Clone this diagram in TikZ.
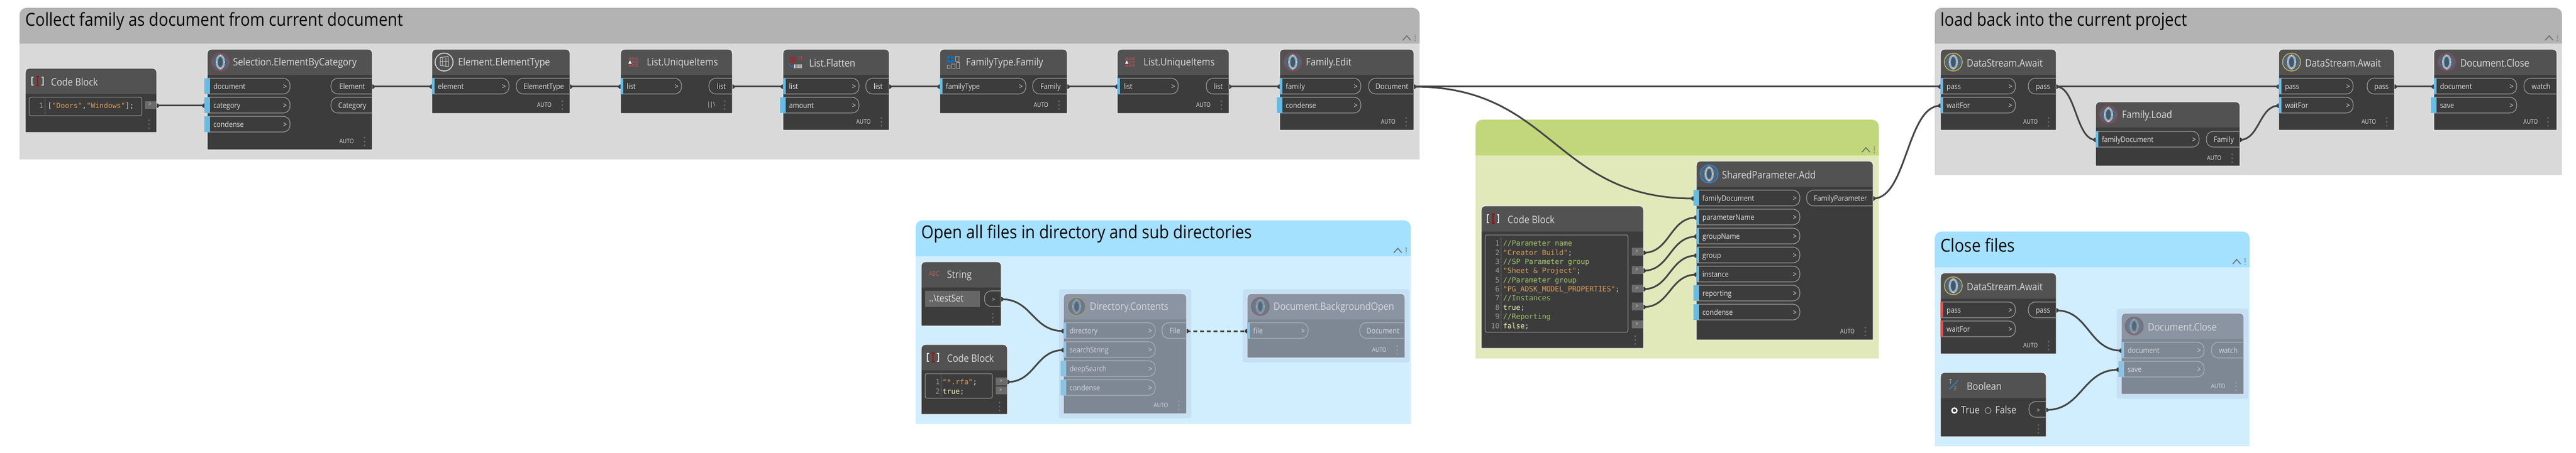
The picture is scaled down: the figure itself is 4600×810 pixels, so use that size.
\documentclass[tikz,border=0pt]{standalone}
\usepackage{fontspec}
\setmainfont{Open Sans}
\newfontfamily\nfont[FakeStretch=0.88]{Open Sans}
\newfontfamily\gfont[FakeStretch=0.887]{Open Sans}
\newfontfamily\cfont{DejaVu Sans Mono}
\usetikzlibrary{calc}
\definecolor{gGrayH}{HTML}{B3B3B3}\definecolor{gGrayB}{HTML}{D9D9D9}
\definecolor{gBlueH}{HTML}{A4E0FF}\definecolor{gBlueB}{HTML}{D0EEFF}
\definecolor{gGreenH}{HTML}{C2D77B}\definecolor{gGreenB}{HTML}{E1E9BB}
\definecolor{halo}{HTML}{C5DFF5}
\definecolor{barblue}{HTML}{66BCE6}\definecolor{barred}{HTML}{EE4B4B}
\definecolor{cmt}{HTML}{A3C46A}\definecolor{strc}{HTML}{D69D5B}\definecolor{kw}{HTML}{EDEDA8}\definecolor{pun}{HTML}{D8D8D8}\definecolor{lnum}{HTML}{9A9A9A}
\definecolor{wirec}{HTML}{444444}
\definecolor{ringred}{HTML}{A83E3E}\definecolor{ringyel}{HTML}{D9B23A}\definecolor{ringblu}{HTML}{3A86CC}
\definecolor{disk}{HTML}{45627A}\definecolor{diskin}{HTML}{3C5A70}\definecolor{diskring}{HTML}{A9AFB4}\definecolor{diskline}{HTML}{6F7C87}
\newcommand\ModeNormal{\definecolor{nhead}{HTML}{525252}\definecolor{nbody}{HTML}{3C3C3C}\definecolor{nedge}{HTML}{F0F0F0}\definecolor{nline}{HTML}{9A9A9A}\definecolor{ntext}{HTML}{E2E2E2}\definecolor{ntitle}{HTML}{DCDCDC}\definecolor{nbar}{HTML}{66BCE6}\definecolor{ndot}{HTML}{6E6E6E}\def\iconop{1}}
\newcommand\ModeFrozen{\definecolor{nhead}{HTML}{8A94A2}\definecolor{nbody}{HTML}{7E8794}\definecolor{nedge}{HTML}{DDE6EF}\definecolor{nline}{HTML}{A9B1BC}\definecolor{ntext}{HTML}{D4D9E0}\definecolor{ntitle}{HTML}{D4D9E0}\definecolor{nbar}{HTML}{8CC3E3}\definecolor{ndot}{HTML}{9AA3AF}\def\iconop{0.5}}
\tikzset{
  gtitle/.style={anchor=west,inner sep=0pt,yshift=-3pt,text=black,font=\gfont\fontsize{32}{36}\selectfont},
  ntitlet/.style={anchor=west,inner sep=0pt,yshift=-2pt,text=ntitle,font=\nfont\fontsize{18.4}{22}\selectfont},
  plab/.style={inner sep=0pt,yshift=-1.5pt,text=ntext,text height=10.5pt,text depth=3pt,font=\nfont\fontsize{13.6}{18}\selectfont},
  autot/.style={inner sep=0pt,text=ntext,font=\nfont\fontsize{11}{13}\selectfont},
  codet/.style={anchor=west,inner sep=0pt,yshift=-2pt,text height=9.5pt,text depth=2.5pt,font=\cfont\fontsize{12.8}{16}\selectfont},
  wire/.style={draw=wirec,line width=3pt},
  wiretab/.style={fill=wirec!90!black},
  edbox/.style={draw=#1,line width=1pt,rounded corners=3pt},
}
\newcommand\DGroup[8]{% name x1 y1 x2 y2 title head body
  \fill[#8] (#2,#3+64) rectangle (#4,#5);
  \fill[#7] (#2,#3+64) -- (#2,#3+14) .. controls (#2,#3+5) and (#2+5,#3) .. (#2+14,#3) -- (#4-14,#3) .. controls (#4-5,#3) and (#4,#3+5) .. (#4,#3+14) -- (#4,#3+64) -- cycle;
  \node[gtitle] (#1) at (#2+10,#3+21) {#6};
  \draw[gray!85!black,line width=1.6pt] (#4-30,#3+58) -- (#4-23,#3+50) -- (#4-16,#3+58);
  \draw[gray,line width=1.2pt,dash pattern=on 1.2pt off 1.2pt] (#4-8,#3+48) -- (#4-8,#3+60);
}
\newcommand\DNode[8]{% name x1 y1 x2 y2 yh titlex title
  \fill[nbody] (#2,#6) rectangle (#4,#5);
  \fill[nhead] (#2,#6) -- (#2,#3+8) .. controls (#2,#3+3) and (#2+3,#3) .. (#2+8,#3) -- (#4-8,#3) .. controls (#4-3,#3) and (#4,#3+3) .. (#4,#3+8) -- (#4,#6) -- cycle;
  \draw[nedge,line width=1.2pt] (#2,#6) -- (#2,#3+8) .. controls (#2,#3+3) and (#2+3,#3) .. (#2+8,#3) -- (#4-8,#3) .. controls (#4-3,#3) and (#4,#3+3) .. (#4,#3+8) -- (#4,#5) -- (#2,#5) -- cycle;
  \node[ntitlet] (#1) at (#7,#3/2+#6/2) {#8};
}
\newcommand\DIn[5]{% name x1 rowtop xr label
  \draw[nline,line width=1.2pt] (#2,#3) -- (#4-13,#3) .. controls (#4-5,#3) and (#4,#3+5) .. (#4,#3+14) .. controls (#4,#3+23) and (#4-5,#3+28) .. (#4-13,#3+28) -- (#2,#3+28);
  \fill[nbar] (#2,#3) rectangle (#2+5,#3+28);
  \node[plab,anchor=west] (#1-t) at (#2+11,#3+14) {#5};
  \node[plab] at (#4-9,#3+14) {>};
  \coordinate (#1) at (#2,#3+15);
}
\newcommand\DInW[5]{% wide bar
  \DIn{#1}{#2}{#3}{#4}{#5}
  \fill[nbar] (#2-5,#3) rectangle (#2+5,#3+28);
  \coordinate (#1) at (#2-5,#3+15);
}
\newcommand\DInR[5]{% red bar
  \DIn{#1}{#2}{#3}{#4}{#5}
  \fill[barred] (#2,#3) rectangle (#2+5,#3+28);
}
\newcommand\DOut[5]{% name xl rowtop x2 label
  \draw[nline,line width=1.2pt] (#4,#3) -- (#2+13,#3) .. controls (#2+5,#3) and (#2,#3+5) .. (#2,#3+14) .. controls (#2,#3+23) and (#2+5,#3+28) .. (#2+13,#3+28) -- (#4,#3+28);
  \node[plab] (#1-t) at (#2/2+#4/2+1,#3+14) {#5};
  \coordinate (#1) at (#4,#3+15);
}
\newcommand\DDots[2]{\foreach \dd in {-7,0,7} \fill[ndot] (#1,#2+\dd) circle (1.6);}
\newcommand\DAuto[4][AUTO]{% label autox dotsx y
  \node[autot] at (#2,#4) {#1};
  \DDots{#3}{#4}
}
\newcommand\CPort[3]{% name x y(top) small code-block output square
  \fill[black!58] (#2,#3) rectangle (#2+20,#3+14);
  \node[plab,yshift=1.5pt,text=pun,font=\nfont\fontsize{10}{12}\selectfont,text height=7pt,text depth=1pt] at (#2+9,#3+6) {>};
  \coordinate (#1) at (#2+20,#3+7);
}
\newcommand\IconGeo[3]{% cx cy ring
  \begin{scope}[opacity=\iconop]
  \fill[disk] (#1,#2) circle (16);
  \draw[diskline,line width=.6pt] (#1-15,#2) -- (#1,#2-15) -- (#1+15,#2) -- (#1,#2+15) -- cycle;
  \draw[diskring,line width=3.6pt] (#1,#2) ellipse [x radius=6.5,y radius=11.5];
  \fill[diskin] (#1,#2) ellipse [x radius=3.6,y radius=8];
  \foreach \ax/\ay in {0/-12,0/12,-7/0,7/0} \fill[white] (#1+\ax,#2+\ay) circle (.9);
  \draw[#3,line width=1.4pt] (#1,#2) circle (16);
  \end{scope}
}
\newcommand\IconList[2]{%
  \foreach \ix in {-6,0,6} \foreach \iy in {-6,0,6} \draw[red!35!gray,line width=.9pt] (#1+\ix,#2+\iy) circle (2);
  \fill[nhead] (#1-6,#2) circle (3);
  \fill[white] (#1-9,#2+3) -- (#1-3,#2+3) -- (#1-6,#2-3) -- cycle;
}
\newcommand\IconCode[2]{%
  \draw[black!15,line width=1.2pt] (#1-7,#2-7) -- (#1-10,#2-7) -- (#1-10,#2+7) -- (#1-7,#2+7);
  \draw[black!15,line width=1.2pt] (#1+7,#2-7) -- (#1+10,#2-7) -- (#1+10,#2+7) -- (#1+7,#2+7);
  \draw[red!70!black,line width=1.3pt] (#1,#2-8) -- (#1,#2+8) (#1-2.5,#2-8) -- (#1+2.5,#2-8) (#1-2.5,#2+8) -- (#1+2.5,#2+8);
}
\newcommand\Wire[3][]{%
  \draw[wire,#1] let \p1=(#2),\p2=(#3),\n1={(\x2-\x1)/2} in (\p1) .. controls (\x1+\n1,\y1) and (\x2-\n1,\y2) .. (\p2);
  \fill[wiretab] ([yshift=-4pt]#2) -- ([xshift=1pt,yshift=-4pt]#2) -- ([xshift=4pt,yshift=-1.5pt]#2) -- ([xshift=4pt,yshift=1.5pt]#2) -- ([xshift=1pt,yshift=4pt]#2) -- ([yshift=4pt]#2) -- cycle;
  \fill[wiretab] ([yshift=-4pt]#3) -- ([xshift=-1pt,yshift=-4pt]#3) -- ([xshift=-4pt,yshift=-1.5pt]#3) -- ([xshift=-4pt,yshift=1.5pt]#3) -- ([xshift=-1pt,yshift=4pt]#3) -- ([yshift=4pt]#3) -- cycle;
}
\begin{document}
\begin{tikzpicture}[x=1pt,y=-1pt]
\useasboundingbox (0,0) rectangle (4600,810);
\fill[white] (0,0) rectangle (4600,810);
\ModeNormal
% ---- groups
\DGroup{gcollect}{35}{14}{2535}{285}{Collect family as document from current document}{gGrayH}{gGrayB}
\DGroup{gload}{3455}{14}{4575}{313}{load back into the current project}{gGrayH}{gGrayB}
\DGroup{gopen}{1635}{394}{2519}{758}{Open all files in directory and sub directories}{gBlueH}{gBlueB}
\DGroup{ggreen}{2635}{214}{3355}{641}{}{gGreenH}{gGreenB}
\DGroup{gclose}{3455}{414}{4017}{798}{Close files}{gBlueH}{gBlueB}
% ---- collect group
\DNode{cb1}{45}{122}{280}{237}{168}{91}{Code Block}
\IconCode{67}{145}
\draw[edbox=nline] (52,174) rectangle (253,207);
\node[codet] (cb1-l1) at (85,188) {\textcolor{pun}{[}\textcolor{strc}{"Doors"}\textcolor{pun}{,}\textcolor{strc}{"Windows"}\textcolor{pun}{];}};
\node[codet,anchor=east,text=lnum] at (77.5,188) {1};
\draw[lnum,line width=.7pt,dash pattern=on 1pt off 1pt] (80,176) -- (80,205);
\CPort{cb1o}{259}{181}
\coordinate (cb1o) at (280,189);
\DDots{266}{222}

\DNode{sel}{370}{88}{665}{268}{134}{416}{Selection.ElementByCategory}
\IconGeo{393.5}{111}{ringred}
\DInW{sel-doc}{370}{140}{518}{document}
\DInW{sel-cat}{370}{174}{518}{category}
\DInW{sel-con}{370}{208}{518}{condense}
\DOut{sel-el}{591}{140}{665}{Element}
\DOut{sel-ca}{591}{174}{665}{Category}
\DAuto{619}{651}{253}

\DNode{ety}{771}{88}{1018}{203}{134}{818}{Element.ElementType}
\draw[black!15,line width=1.6pt] (793,111) circle (16);
\draw[black!20,line width=1pt] (786,103) -- (800,101) -- (801,119) -- (786,117) -- cycle (790,104) -- (790,116) (796,103) -- (796,118) (786,110) -- (801,110);
\DIn{ety-el}{771}{140}{909}{element}
\DOut{ety-ty}{922}{140}{1018}{ElementType}
\DAuto{972}{1004}{188}

\DNode{lu1}{1108}{88}{1308}{203}{134}{1155}{List.UniqueItems}
\IconList{1131}{111}
\DIn{lu1-in}{1108}{140}{1217}{list}
\DOut{lu1-ou}{1266}{140}{1308}{list}
\DAuto[{||\textbackslash}]{1270}{1294}{188}

\DNode{lfl}{1398}{88}{1588}{233}{134}{1445}{List.Flatten}
\foreach \ix in {0,1,2,3} \foreach \iy in {0,1,2,3} \fill[red!55!black!85] (1410+\ix*3.2,101+\iy*3) rectangle ++(2.4,2.2);
\draw[red!45!gray,line width=.9pt] (1426,107) -- (1426,101) -- (1431,101) -- (1431,107);
\draw[blue!50!cyan,line width=1.2pt] (1410,113) .. controls (1410,118) and (1413,119) .. (1418,119);
\fill[black!18] (1418,115) rectangle (1432,122);
\foreach \ix in {1,2,3,4,5,6} \draw[black!55,line width=.4pt] (1418+\ix*2,115) -- (1418+\ix*2,122);
\DIn{lfl-in}{1398}{140}{1534}{list}
\DInW{lfl-am}{1398}{174}{1534}{amount}
\DOut{lfl-ou}{1546}{140}{1588}{list}
\DAuto{1542}{1574}{218}

\DNode{ftf}{1678}{88}{1906}{203}{134}{1725}{FamilyType.Family}
\fill[blue!45!cyan!85!black] (1697,106) circle (6.5);
\draw[black!70,line width=1.2pt] (1691,106) -- (1703,106) (1697,100) -- (1697,112);
\foreach \rx/\ry/\rw/\rh in {1706/100/6/9,1691/116/5/6,1699/114/6/8,1708/111/5/11} \draw[black!35,line width=.8pt] (\rx,\ry) rectangle ++(\rw,\rh);
\DIn{ftf-in}{1678}{140}{1832}{familyType}
\DOut{ftf-ou}{1844}{140}{1906}{Family}
\DAuto{1859}{1891}{188}

\DNode{lu2}{1995}{88}{2195}{203}{134}{2042}{List.UniqueItems}
\IconList{2018}{111}
\DIn{lu2-in}{1995}{140}{2104}{list}
\DOut{lu2-ou}{2154}{140}{2195}{list}
\DAuto{2149}{2181}{188}

\DNode{fed}{2285}{88}{2525}{233}{134}{2332}{Family.Edit}
\IconGeo{2308.5}{111}{ringred}
\DIn{fed-fa}{2285}{140}{2430}{family}
\DInW{fed-co}{2285}{174}{2430}{condense}
\DOut{fed-do}{2444}{140}{2525}{Document}
\DAuto{2479}{2511}{218}
% ---- load group
\DNode{ds1}{3465}{88}{3672}{233}{134}{3512}{DataStream.Await}
\IconGeo{3488}{111}{ringyel}
\DIn{ds1-pa}{3465}{140}{3599}{pass}
\DIn{ds1-wa}{3465}{174}{3599}{waitFor}
\DOut{ds1-ou}{3622}{140}{3672}{pass}
\DAuto{3626}{3658}{218}

\DNode{fl}{3742}{182}{4000}{297}{228}{3789}{Family.Load}
\IconGeo{3765}{205}{ringred}
\DIn{fl-do}{3742}{235}{3927}{familyDocument}
\DOut{fl-ou}{3940}{235}{4000}{Family}
\DAuto{3954}{3986}{283}

\DNode{ds2}{4069}{88}{4276}{233}{134}{4116}{DataStream.Await}
\IconGeo{4092}{111}{ringyel}
\DIn{ds2-pa}{4069}{140}{4202}{pass}
\DIn{ds2-wa}{4069}{174}{4202}{waitFor}
\DOut{ds2-ou}{4227}{140}{4276}{pass}
\DAuto{4230}{4262}{218}

\DNode{dc1}{4346}{88}{4566}{233}{134}{4393}{Document.Close}
\IconGeo{4369}{111}{ringred}
\DIn{dc1-do}{4346}{140}{4494}{document}
\DInW{dc1-sa}{4346}{174}{4494}{save}
\DOut{dc1-ou}{4507}{140}{4566}{watch}
\DAuto{4519}{4550}{218}
% ---- open group
\DNode{str}{1645}{468}{1788}{583}{514}{1691}{String}
\node[inner sep=0pt,text=red!45!gray!85,font=\nfont\fontsize{11}{13}\selectfont] (str-i) at (1668,490) {ABC};
\fill[black!60] (1652,520) rectangle (1750,549);
\node[plab,anchor=west,font=\nfont\fontsize{17}{20}\selectfont] (str-v) at (1659,534) {..\textbackslash testSet};
\DOut{str-o}{1758}{520}{1788}{}
\node[plab,font=\nfont\fontsize{11}{13}\selectfont,text height=8pt,text depth=1pt] at (1774,534) {>};
\DDots{1773}{568}

\DNode{cb2}{1645}{616}{1799}{741}{662}{1691}{Code Block}
\IconCode{1666}{639}
\draw[edbox=nline] (1652,668) rectangle (1772,712);
\node[codet] (cb2-l1) at (1683,682) {\textcolor{strc}{"*.rfa"}\textcolor{pun}{;}};
\node[codet] (cb2-l2) at (1683,699) {\textcolor{kw}{true}\textcolor{pun}{;}};
\node[codet,anchor=east,text=lnum] at (1678.5,682) {1};
\node[codet,anchor=east,text=lnum] at (1678.5,699) {2};
\draw[lnum,line width=.7pt,dash pattern=on 1pt off 1pt] (1680,670) -- (1680,710);
\CPort{cb2a}{1778}{675}
\CPort{cb2b}{1778}{691}
\coordinate (cb2o) at (1799,683);
\DDots{1785}{727}

\ModeFrozen
\fill[halo,rounded corners=4pt] (1891,517) rectangle (2127,748);
\DNode{dirc}{1899}{525}{2119}{740}{571}{1946}{Directory.Contents}
\IconGeo{1922.5}{548}{ringyel}
\DIn{dir-di}{1899}{577}{2063}{directory}
\DIn{dir-se}{1899}{611}{2063}{searchString}
\DInW{dir-de}{1899}{645}{2063}{deepSearch}
\DInW{dir-co}{1899}{679}{2063}{condense}
\DOut{dir-fi}{2075}{577}{2119}{File}
\DAuto{2073}{2105}{725}

\fill[halo,rounded corners=4pt] (2219,517) rectangle (2517,648);
\DNode{dbo}{2227}{525}{2509}{640}{571}{2274}{Document.BackgroundOpen}
\IconGeo{2250.5}{548}{ringred}
\DIn{dbo-fi}{2227}{577}{2336}{file}
\DOut{dbo-do}{2428}{577}{2509}{Document}
\DAuto{2463}{2495}{626}
\ModeNormal
% ---- green group
\DNode{cb3}{2645}{368}{2935}{623}{414}{2692}{Code Block}
\IconCode{2666}{391}
\draw[edbox=nline] (2652,420) rectangle (2907,594);
\node[codet,text=cmt] (cb3-l1) at (2684,434) {//Parameter name};
\node[codet] (cb3-l2) at (2684,451) {\textcolor{strc}{"Creator Build"}\textcolor{pun}{;}};
\node[codet,text=cmt] (cb3-l3) at (2684,467) {//SP Parameter group};
\node[codet] (cb3-l4) at (2684,483) {\textcolor{strc}{"Sheet \& Project"}\textcolor{pun}{;}};
\node[codet,text=cmt] (cb3-l5) at (2684,500) {//Parameter group};
\node[codet] (cb3-l6) at (2684,516) {\textcolor{strc}{"PG\_ADSK\_MODEL\_PROPERTIES"}\textcolor{pun}{;}};
\node[codet,text=cmt] (cb3-l7) at (2684,532) {//Instances};
\node[codet] (cb3-l8) at (2684,549) {\textcolor{kw}{true}\textcolor{pun}{;}};
\node[codet,text=cmt] (cb3-l9) at (2684,565) {//Reporting};
\node[codet] (cb3-l10) at (2684,582) {\textcolor{kw}{false}\textcolor{pun}{;}};
\foreach \ln/\ly in {1/434,2/451,3/467,4/483,5/500,6/516,7/532,8/549,9/565,10/582}
  \node[codet,anchor=east,text=lnum] at (2678,\ly) {\ln};
\draw[lnum,line width=.7pt,dash pattern=on 1pt off 1pt] (2680.5,424) -- (2680.5,590);
\CPort{cb3a}{2914}{443}
\CPort{cb3b}{2914}{476}
\CPort{cb3c}{2914}{509}
\CPort{cb3d}{2914}{541}
\CPort{cb3e}{2914}{573}
\coordinate (cb3ao) at (2935,452);
\coordinate (cb3bo) at (2935,484);
\coordinate (cb3co) at (2935,517);
\coordinate (cb3do) at (2935,549);
\DDots{2920}{608}

\DNode{spa}{3029}{288}{3345}{608}{334}{3075}{SharedParameter.Add}
\IconGeo{3052}{311}{ringblu}
\DInW{sp-fd}{3029}{340}{3214}{familyDocument}
\DIn{sp-pn}{3029}{374}{3214}{parameterName}
\DIn{sp-gn}{3029}{408}{3214}{groupName}
\DIn{sp-gr}{3029}{442}{3214}{group}
\DIn{sp-in}{3029}{476}{3214}{instance}
\DInW{sp-re}{3029}{510}{3214}{reporting}
\DInW{sp-co}{3029}{544}{3214}{condense}
\DOut{sp-ou}{3226}{340}{3345}{FamilyParameter}
\DAuto{3299}{3331}{593}
% ---- close group
\DNode{ds3}{3465}{488}{3672}{633}{534}{3512}{DataStream.Await}
\IconGeo{3488}{511}{ringyel}
\DInR{ds3-pa}{3465}{540}{3599}{pass}
\DInR{ds3-wa}{3465}{574}{3599}{waitFor}
\DOut{ds3-ou}{3622}{540}{3672}{pass}
\DAuto{3626}{3658}{618}

\DNode{boo}{3465}{666}{3654}{781}{712}{3512}{Boolean}
\node[inner sep=0pt,text=black!15,font=\nfont\fontsize{11}{13}\selectfont] (boo-t) at (3483,683) {T};
\node[inner sep=0pt,text=black!40,font=\nfont\fontsize{11}{13}\selectfont] (boo-f) at (3492,696) {F};
\draw[blue!40!cyan!70!gray,line width=1.2pt] (3497,680) -- (3481,696);
\draw[white,line width=2.4pt] (3490,734) circle (4.5);
\fill[black!75] (3490,734) circle (2.4);
\node[plab,anchor=west,font=\nfont\fontsize{18}{22}\selectfont] (boo-tv) at (3502,734) {True};
\draw[black!25,line width=.9pt] (3550,734) circle (5.5);
\node[plab,anchor=west,font=\nfont\fontsize{18}{22}\selectfont] (boo-fv) at (3563,734) {False};
\DOut{boo-o}{3623}{718}{3654}{}
\node[plab,font=\nfont\fontsize{11}{13}\selectfont,text height=8pt,text depth=1pt] at (3640,732) {>};
\DDots{3640}{767}

\ModeFrozen
\fill[halo,rounded corners=4pt] (3780,552) rectangle (4015,713);
\DNode{dc2}{3788}{560}{4007}{705}{606}{3835}{Document.Close}
\IconGeo{3811}{583}{ringred}
\DIn{dc2-do}{3788}{612}{3936}{document}
\DInW{dc2-sa}{3788}{646}{3936}{save}
\DOut{dc2-ou}{3949}{612}{4007}{watch}
\DAuto{3961}{3993}{691}
\ModeNormal
% ---- connectors
\Wire{cb1o}{sel-cat}
\Wire{sel-el}{ety-el}
\Wire{ety-ty}{lu1-in}
\Wire{lu1-ou}{lfl-in}
\Wire{lfl-ou}{ftf-in}
\Wire{ftf-ou}{lu2-in}
\Wire{lu2-ou}{fed-fa}
\Wire{fed-do}{ds1-pa}
\Wire{fed-do}{sp-fd}
\Wire{sp-ou}{ds1-wa}
\Wire{ds1-ou}{ds2-pa}
\Wire{ds1-ou}{fl-do}
\Wire{fl-ou}{ds2-wa}
\Wire{ds2-ou}{dc1-do}
\Wire{str-o}{dir-di}
\Wire{cb2o}{dir-se}
\Wire[dash pattern=on 7pt off 5pt]{dir-fi}{dbo-fi}
\Wire{cb3ao}{sp-pn}
\Wire{cb3bo}{sp-gn}
\Wire{cb3co}{sp-gr}
\Wire{cb3do}{sp-in}
\Wire{ds3-ou}{dc2-do}
\Wire{boo-o}{dc2-sa}
\end{tikzpicture}
\end{document}
